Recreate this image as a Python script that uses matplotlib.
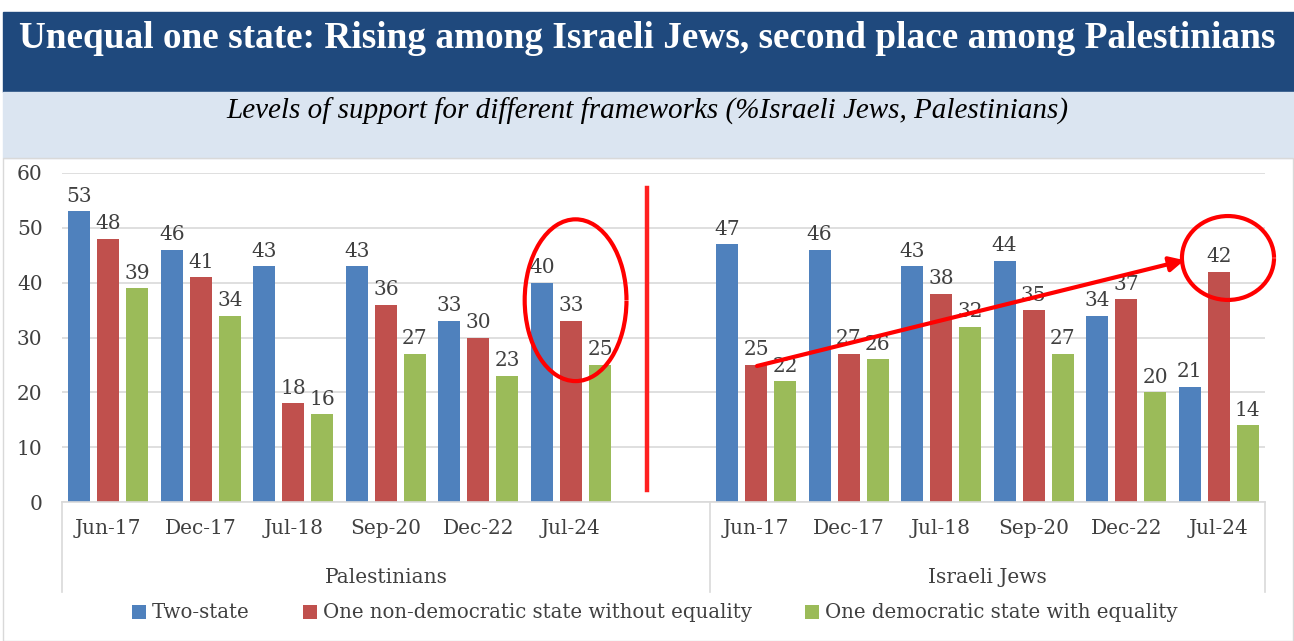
import numpy as np
import matplotlib
matplotlib.use("Agg")
import matplotlib.pyplot as plt
from matplotlib.patches import Rectangle, Arc

# data
dates = ["Jun-17", "Dec-17", "Jul-18", "Sep-20", "Dec-22", "Jul-24"]
groups = ["Palestinians", "Israeli Jews"]
series = ["Two-state", "One non-democratic state without equality",
          "One democratic state with equality"]
colors = ["#4F81BD", "#C0504D", "#9BBB59"]

pal_two_state = [53, 46, 43, 43, 33, 40]
pal_non_dem = [48, 41, 18, 36, 30, 33]
pal_dem = [39, 34, 16, 27, 23, 25]

isr_two_state = [47, 46, 43, 44, 34, 21]
isr_non_dem = [25, 27, 38, 35, 37, 42]
isr_dem = [22, 26, 32, 27, 20, 14]

SERIF = "DejaVu Serif"
TXT = "#404040"

fig = plt.figure(figsize=(12.94, 6.41), dpi=100)
W, H = 1294, 641

# header bands
fig.patches.append(Rectangle((3 / W, 1 - 92 / H), 1 - 3 / W, 80 / H,
                             transform=fig.transFigure, color="#1F497D", zorder=0))
fig.patches.append(Rectangle((3 / W, 1 - 158 / H), 1 - 3 / W, 66 / H,
                             transform=fig.transFigure, color="#DBE5F1", zorder=0))
fig.patches.append(Rectangle((3 / W, 0), 1 - 4 / W, 1 - 158 / H, transform=fig.transFigure,
                             fill=False, edgecolor="#D9D9D9", lw=1, zorder=0))
fig.text(0.5, 1 - 38 / H, "Unequal one state: Rising among Israeli Jews, second place among Palestinians",
         ha="center", va="center", color="white", fontsize=26.8, fontweight="bold",
         family="Liberation Serif")
fig.text(0.5, 1 - 111 / H, "Levels of support for different frameworks (%Israeli Jews, Palestinians)",
         ha="center", va="center", color="black", fontsize=21, style="italic",
         family="Liberation Serif")

ax = fig.add_axes([62 / W, 1 - 502 / H, (1265 - 62) / W, (502 - 173) / H])

pal_x = np.arange(6)
isr_x = np.arange(7, 13)
bw = 0.238
step = 0.314
all_vals = [(pal_x, [pal_two_state, pal_non_dem, pal_dem]),
            (isr_x, [isr_two_state, isr_non_dem, isr_dem])]
for xs, vals in all_vals:
    for i, v in enumerate(vals):
        bars = ax.bar(xs + (i - 1) * step, v, width=bw, color=colors[i],
                      label=series[i] if xs[0] == 0 else None, zorder=2)
        for b, val in zip(bars, v):
            ax.annotate(str(val), (b.get_x() + b.get_width() / 2, val),
                        xytext=(0, 4), textcoords="offset points", ha="center",
                        va="bottom", fontsize=14.5, family=SERIF, color=TXT, zorder=3)

ax.set_xlim(-0.5, 12.5)
ax.set_ylim(0, 60)
ax.set_yticks(range(0, 61, 10))
ax.yaxis.grid(True, color="#D9D9D9", lw=1.2, zorder=0)
ax.set_axisbelow(True)
for s in ["top", "right", "left"]:
    ax.spines[s].set_visible(False)
ax.spines["bottom"].set_color("#D9D9D9")
ax.spines["bottom"].set_linewidth(1.2)
ax.set_xticks(np.concatenate([pal_x, isr_x]))
ax.set_xticklabels(dates + dates)
ax.tick_params(axis="both", length=0, labelsize=14.5, labelcolor=TXT)
ax.tick_params(axis="y", pad=14)
ax.tick_params(axis="x", pad=12)
for lab in ax.get_xticklabels() + ax.get_yticklabels():
    lab.set_family(SERIF)

# group labels and separators
trans = ax.get_xaxis_transform()
for xc, g in zip([3.0, 9.5], groups):
    ax.text(xc, -0.23, g, transform=trans, ha="center", va="center",
            fontsize=14.5, family=SERIF, color=TXT)
for xs in [-0.5, 6.5, 12.5]:
    ax.plot([xs, xs], [0, -0.275], transform=trans, color="#D9D9D9", lw=1.2, clip_on=False)

# annotations
ax.plot([5.82, 5.82], [2.2, 57.3], color="#FF2020", lw=3.2, zorder=4)
ax.add_patch(Arc((5.05, 36.8), 1.10, 29.5, theta1=4, theta2=356, color="red", lw=3,
                 zorder=4, clip_on=False))
ax.add_patch(Arc((12.1, 44.5), 0.995, 15.3, theta1=4, theta2=356, color="red", lw=3,
                 zorder=4, clip_on=False))
ax.annotate("", xy=(11.63, 44.1), xytext=(7.01, 24.8),
            arrowprops=dict(arrowstyle="-|>", color="red", lw=3, mutation_scale=22,
                            shrinkA=0, shrinkB=0), zorder=4)

leg = fig.legend(loc="center", bbox_to_anchor=(0.506, 1 - 613 / H), ncol=3, frameon=False,
                 prop={"family": SERIF, "size": 14.2}, handlelength=0.7, handleheight=0.7,
                 handletextpad=0.3, columnspacing=2.7)
for t in leg.get_texts():
    t.set_color(TXT)

fig.savefig("out.png", dpi=100)
